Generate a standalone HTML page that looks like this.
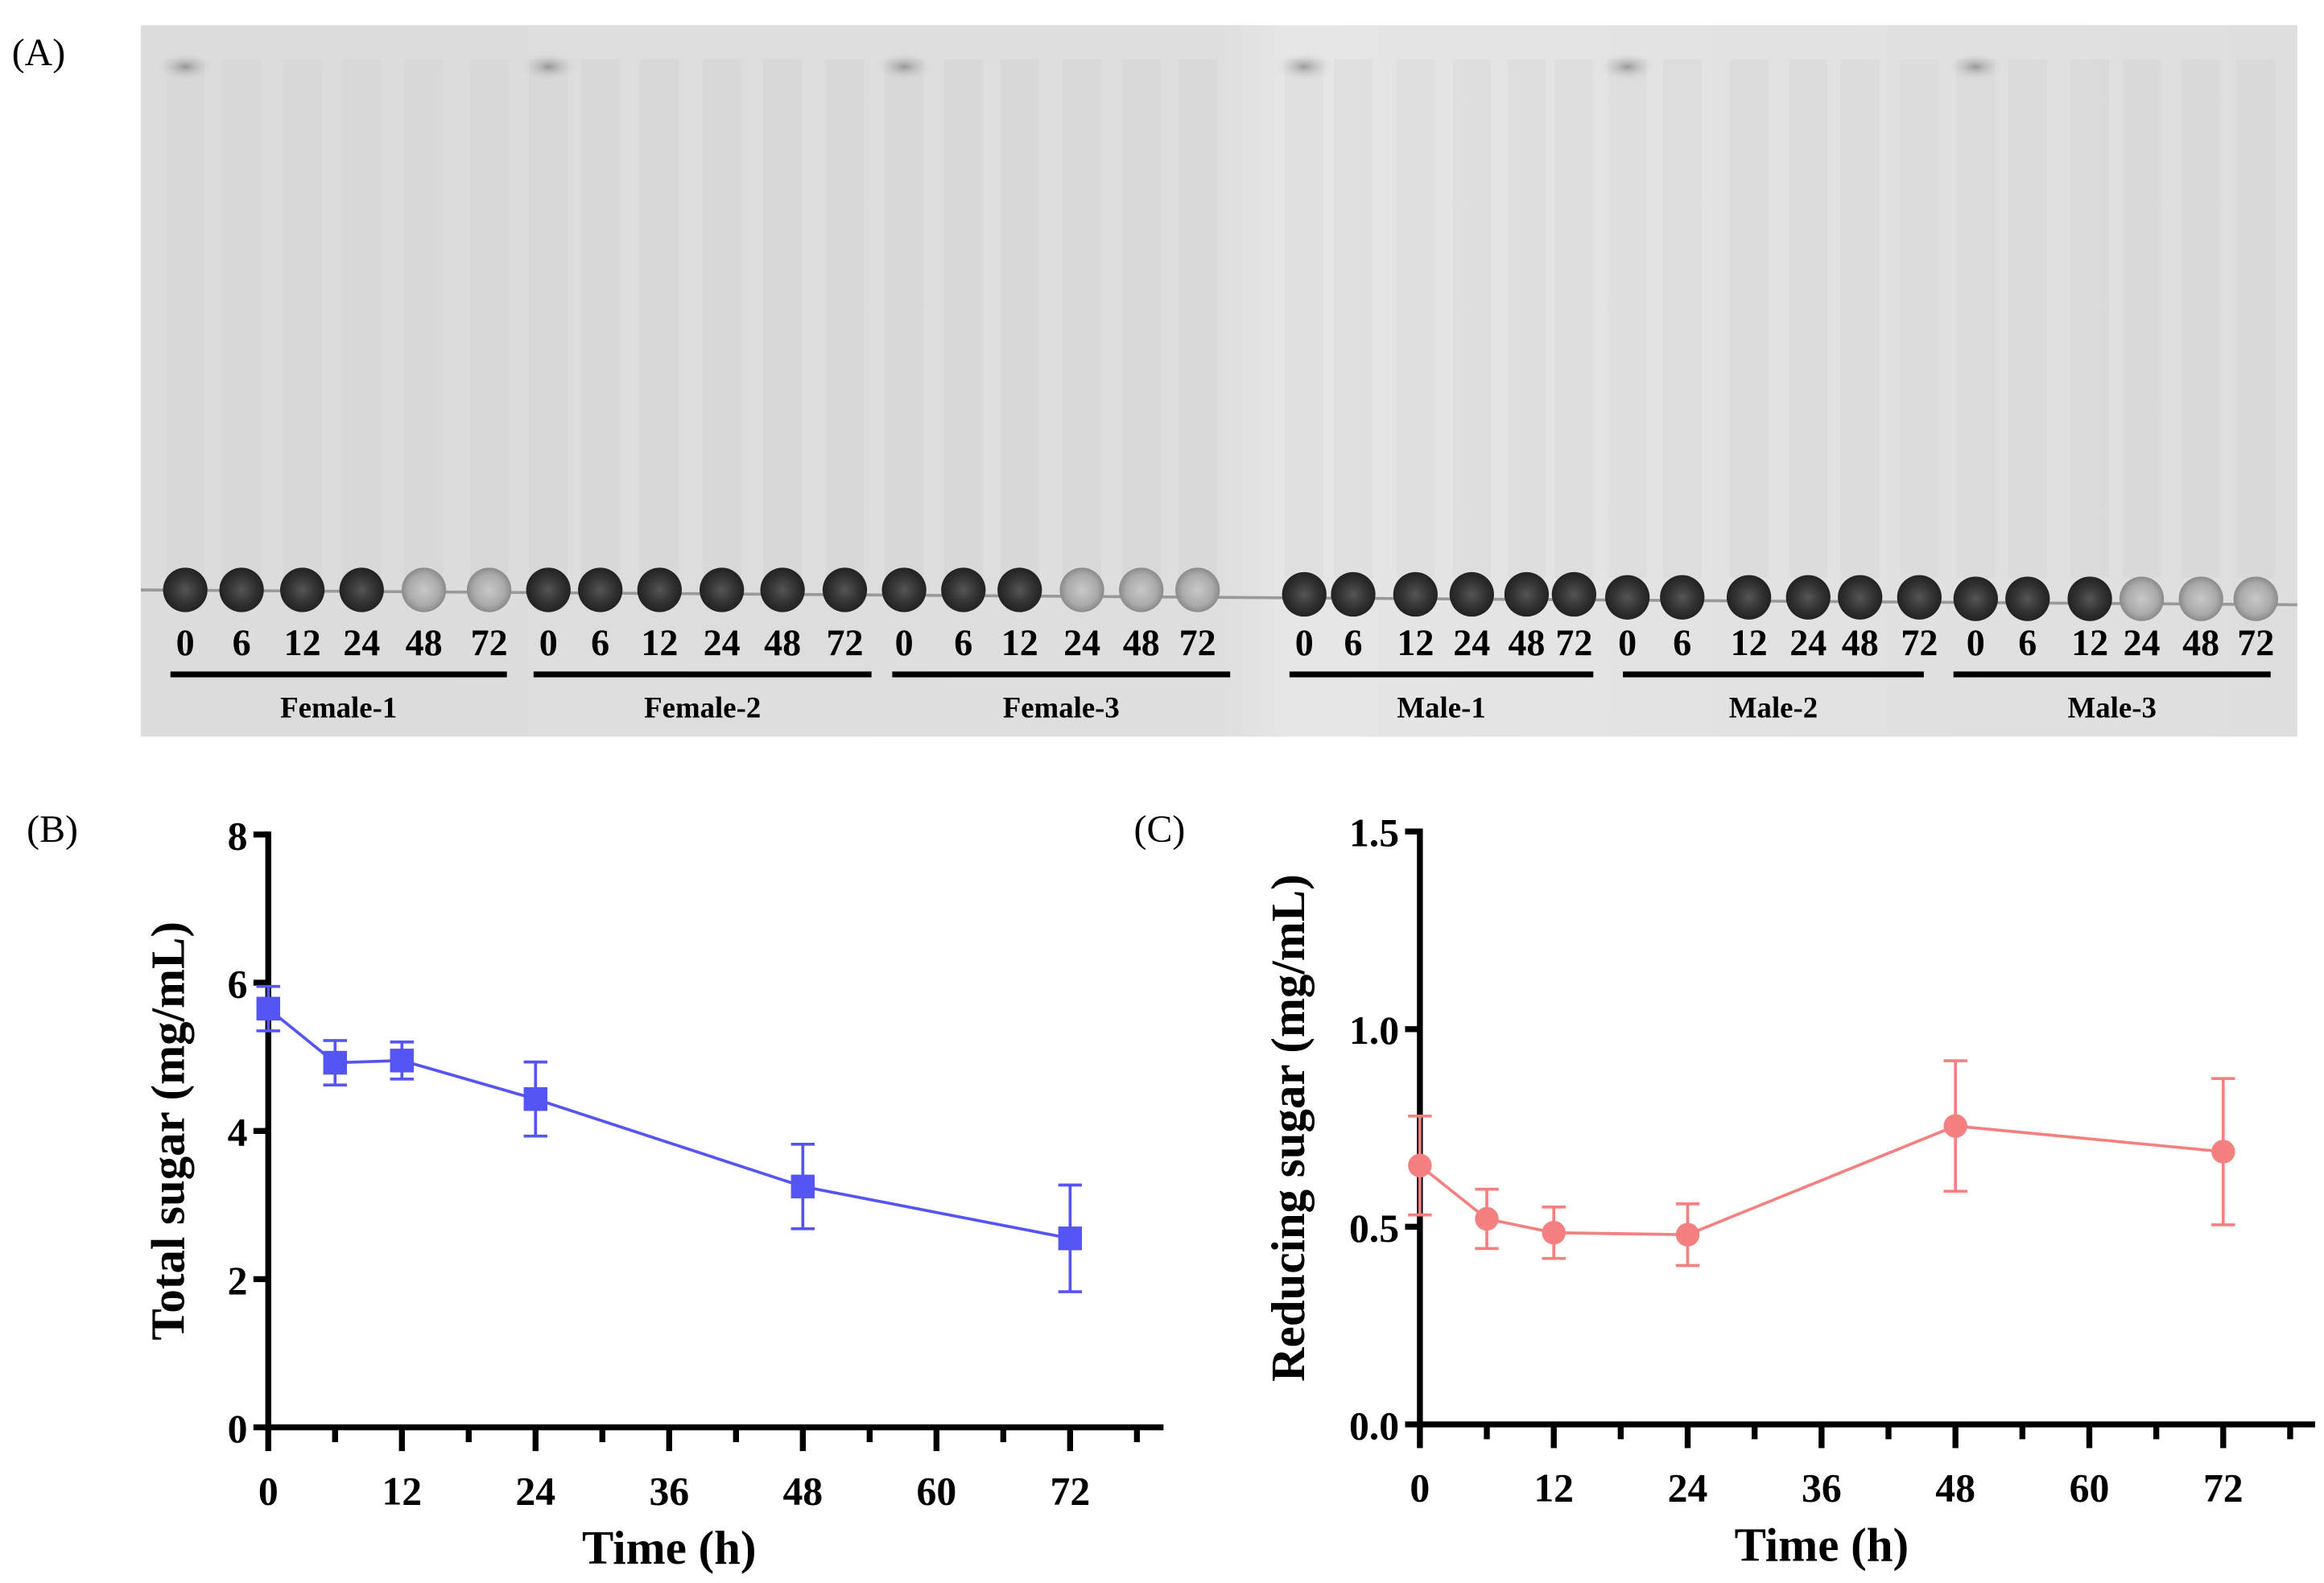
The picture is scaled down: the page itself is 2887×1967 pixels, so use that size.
<!DOCTYPE html>
<html><head><meta charset="utf-8"><style>html,body{margin:0;padding:0;background:#fff}svg{display:block}</style></head>
<body>
<svg id="fig" width="2887" height="1967" viewBox="0 0 1568 1068" preserveAspectRatio="none" xmlns="http://www.w3.org/2000/svg" font-family="Liberation Serif, serif">
<defs>
<linearGradient id="gelbg" x1="0" y1="0" x2="1" y2="0">
<stop offset="0" stop-color="#dcdcdc"/><stop offset="0.5" stop-color="#dedede"/><stop offset="0.53" stop-color="#e6e6e6"/><stop offset="1" stop-color="#dedede"/></linearGradient>
<radialGradient id="spot"><stop offset="0" stop-color="#555"/><stop offset="0.6" stop-color="#333"/><stop offset="1" stop-color="#222"/></radialGradient>
<radialGradient id="spotf"><stop offset="0" stop-color="#c8c8c8"/><stop offset="0.7" stop-color="#aaa"/><stop offset="1" stop-color="#8a8a8a"/></radialGradient>
<radialGradient id="smudge"><stop offset="0" stop-color="#555"/><stop offset="1" stop-color="#ddd" stop-opacity="0"/></radialGradient>
</defs>
<text x="8" y="44" font-size="26">(A)</text>
<g id="gel"></g>
<text x="18" y="568" font-size="26">(B)</text>
<text x="765" y="568" font-size="26">(C)</text>
<g id="chartB"></g>
<g id="chartC"></g>
</svg>
<script>
const NS='http://www.w3.org/2000/svg';
function el(p,t,a){const e=document.createElementNS(NS,t);for(const k in a)e.setAttribute(k,a[k]);p.appendChild(e);return e;}

const timeCats=[0,6,12,24,48,72];
const totalSugar=[5.65,4.92,4.95,4.43,3.25,2.55];
const totalSugarErr=[0.3,0.3,0.25,0.5,0.57,0.72];
const reducingSugar=[0.655,0.52,0.485,0.48,0.755,0.69];
const reducingSugarErr=[0.125,0.075,0.065,0.078,0.165,0.185];
const xTicks=[0,12,24,36,48,60,72];
const yTicksB=['0','2','4','6','8'];
const yTicksC=['0.0','0.5','1.0','1.5'];
const groups=['Female-1','Female-2','Female-3','Male-1','Male-2','Male-3'];
const laneLabels=['0','6','12','24','48','72'];

const gel=document.getElementById('gel');
let r=el(gel,'rect',{x:95,y:17,width:1455,height:480,fill:'url(#gelbg)'});

el(gel,'line',{x1:95,y1:398,x2:1550,y2:408,stroke:'#999','stroke-width':2});
const laneX=[[125,163,204,244,286,330],[370,405,445,487,528,570],[610,650,688,730,770,808],[880,913,955,993,1030,1062],[1098,1135,1180,1220,1255,1295],[1333,1368,1410,1445,1485,1522]];
const faint=[[0,0,0,0,1,1],[0,0,0,0,0,0],[0,0,0,1,1,1],[0,0,0,0,0,0],[0,0,0,0,0,0],[0,0,0,1,1,1]];
const lineSeg=[[115,342],[360,588],[602,830],[870,1075],[1095,1298],[1318,1532]];
const spotY=[398,398,398,401,403,404];
groups.forEach((g,gi)=>{
  laneX[gi].forEach((x,li)=>{
    el(gel,'rect',{x:x-13,y:40,width:26,height:350,fill:'#c8c8c8',opacity:0.2});
  });
  el(gel,'ellipse',{cx:laneX[gi][0],cy:45,rx:20,ry:10,fill:'url(#smudge)',opacity:0.5});
  laneX[gi].forEach((x,li)=>{
    const s=el(gel,'circle',{cx:x,cy:spotY[gi],r:15,fill:faint[gi][li]?'url(#spotf)':'url(#spot)'});
    
    const t=el(gel,'text',{x:x,y:442,'font-size':25,'text-anchor':'middle','font-weight':'bold'});t.textContent=laneLabels[li];
    
  });
  const l=el(gel,'line',{x1:lineSeg[gi][0],x2:lineSeg[gi][1],y1:455,y2:455,stroke:'#000','stroke-width':4});
  
  const t=el(gel,'text',{x:(lineSeg[gi][0]+lineSeg[gi][1])/2,y:484,'font-size':20,'text-anchor':'middle','font-weight':'bold'});t.textContent=g;
  
});

function chart(id,o){
  const g=document.getElementById(id);
  const X=v=>o.x0+(v/72)*(o.x72-o.x0);
  const Y=v=>o.yb-(v/o.ymax)*(o.yb-o.yt);
  el(g,'line',{x1:o.x0,y1:o.yt-2,x2:o.x0,y2:o.yb+2,stroke:'#000','stroke-width':4});
  el(g,'line',{x1:o.x0-2,y1:o.yb,x2:o.xend,y2:o.yb,stroke:'#000','stroke-width':4});
  for(let v=0;v<=78;v+=6){
    const major=v%12===0;
    el(g,'line',{x1:X(v),x2:X(v),y1:o.yb,y2:o.yb+(major?16:10),stroke:'#000','stroke-width':4});
  }
  xTicks.forEach(v=>{const t=el(g,'text',{x:X(v),y:o.yb+52,'font-size':27,'font-weight':'bold','text-anchor':'middle'});t.textContent=v;
    });
  o.yt_labels.forEach((lab,i)=>{const v=parseFloat(lab);
    el(g,'line',{x1:o.x0-10,x2:o.x0,y1:Y(v),y2:Y(v),stroke:'#000','stroke-width':4});
    const t=el(g,'text',{x:o.x0-14,y:Y(v)+10,'font-size':27,'font-weight':'bold','text-anchor':'end'});t.textContent=lab;
    });
  let t=el(g,'text',{x:X(36),y:o.yb+92,'font-size':32,'font-weight':'bold','text-anchor':'middle'});t.textContent='Time (h)';
  
  const cy=(o.yt+o.yb)/2+o.tyoff;
  t=el(g,'text',{x:o.tx,y:cy,'font-size':32,'font-weight':'bold','text-anchor':'middle',transform:`rotate(-90 ${o.tx} ${cy})`});t.textContent=o.title;
  
  let d='';o.vals.forEach((v,i)=>{d+=(i?'L':'M')+X(timeCats[i])+' '+Y(v);});
  const p=el(g,'path',{d:d,fill:'none',stroke:o.color,'stroke-width':2});
  
  o.vals.forEach((v,i)=>{
    const x=X(timeCats[i]),e=o.err[i];
    el(g,'line',{x1:x,x2:x,y1:Y(v-e),y2:Y(v+e),stroke:o.color,'stroke-width':2});
    el(g,'line',{x1:x-8,x2:x+8,y1:Y(v-e),y2:Y(v-e),stroke:o.color,'stroke-width':2});
    el(g,'line',{x1:x-8,x2:x+8,y1:Y(v+e),y2:Y(v+e),stroke:o.color,'stroke-width':2});
    let m;
    if(o.square) m=el(g,'rect',{x:x-8,y:Y(v)-8,width:16,height:16,fill:o.color});
    else m=el(g,'circle',{cx:x,cy:Y(v),r:8,fill:o.color});
    
  });
}
chart('chartB',{x0:181,x72:722,xend:785,yt:563,yb:963,ymax:8,yt_labels:yTicksB,vals:totalSugar,err:totalSugarErr,color:'#5555f5',square:true,title:'Total sugar (mg/mL)',tx:124,tyoff:0});
chart('chartC',{x0:958,x72:1500,xend:1562,yt:561,yb:961,ymax:1.5,yt_labels:yTicksC,vals:reducingSugar,err:reducingSugarErr,color:'#f58080',square:false,title:'Reducing sugar (mg/mL)',tx:880,tyoff:0});
</script>
</body></html>
